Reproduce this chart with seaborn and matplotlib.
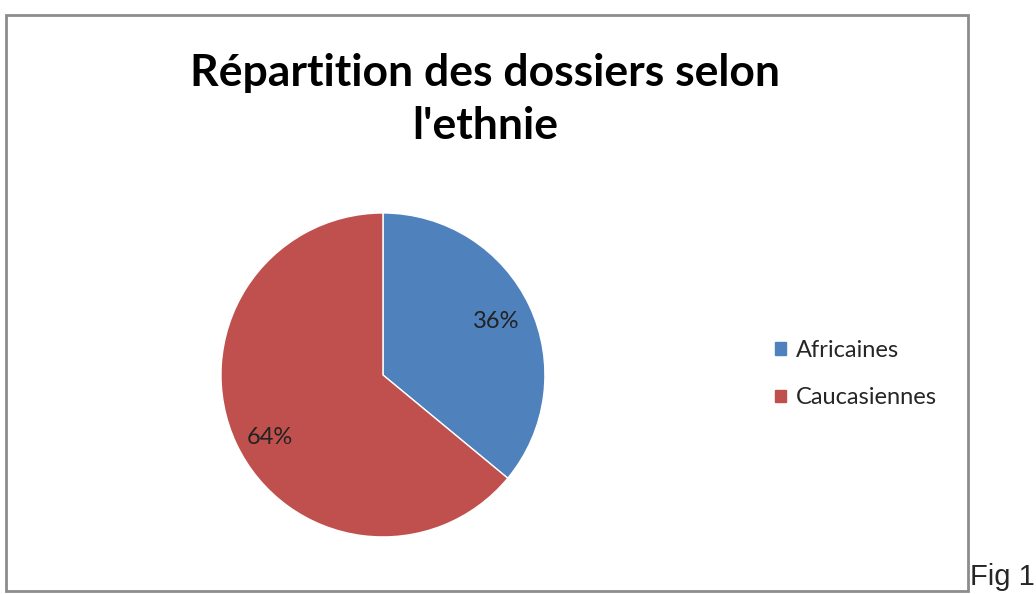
import matplotlib
matplotlib.use("Agg")
import matplotlib.pyplot as plt
import seaborn as sns
from matplotlib.patches import Patch, Rectangle

# Données du graphique
ethnies = ['Africaines', 'Caucasiennes']
parts = [36, 64]
couleurs = ['#4F81BD', '#C0504D']
titre = "Répartition des dossiers selon\nl'ethnie"

sns.set_theme(style='white')
plt.rcParams['font.family'] = ['Lato', 'DejaVu Sans']

fig = plt.figure(figsize=(10.36, 5.94), dpi=100)
fig.patch.set_facecolor('white')

# cadre du graphique
fig.patches.append(Rectangle((0.0058, 0.005), 0.9286, 0.9697, transform=fig.transFigure,
                             fill=False, edgecolor='#8c8c8c', linewidth=2, zorder=0))

ax = fig.add_axes([0.2133, 0.0960, 0.3127, 0.5455])
wedges, texts, autotexts = ax.pie(parts, colors=sns.color_palette(couleurs), startangle=90,
                                  counterclock=False, autopct='%1.0f%%', pctdistance=0.77,
                                  wedgeprops=dict(edgecolor='white', linewidth=1))
for t in autotexts:
    t.set_fontsize(17)
    t.set_color('#222222')
# petit décalage du libellé 64% vers le bas, comme dans Excel
x, y = autotexts[1].get_position()
autotexts[1].set_position((x, y - 0.06))
ax.set_xlim(-1, 1)
ax.set_ylim(-1, 1)
ax.set_aspect('equal')
ax.axis('off')

fig.text(0.468, 0.833, titre, ha='center', va='center', fontsize=32, fontweight='bold',
         linespacing=1.4, color='black')

handles = [Patch(color=c, label=e) for e, c in zip(ethnies, couleurs)]
fig.legend(handles=handles, loc='center left', bbox_to_anchor=(0.728, 0.37), frameon=False,
           fontsize=17, handlelength=0.45, handleheight=0.45, handletextpad=0.42,
           labelspacing=1.12)

fig.text(0.936, 0.005, 'Fig 1', ha='left', va='bottom', fontsize=21,
         family=['Liberation Sans', 'DejaVu Sans'])

fig.savefig('out.png', dpi=100)
